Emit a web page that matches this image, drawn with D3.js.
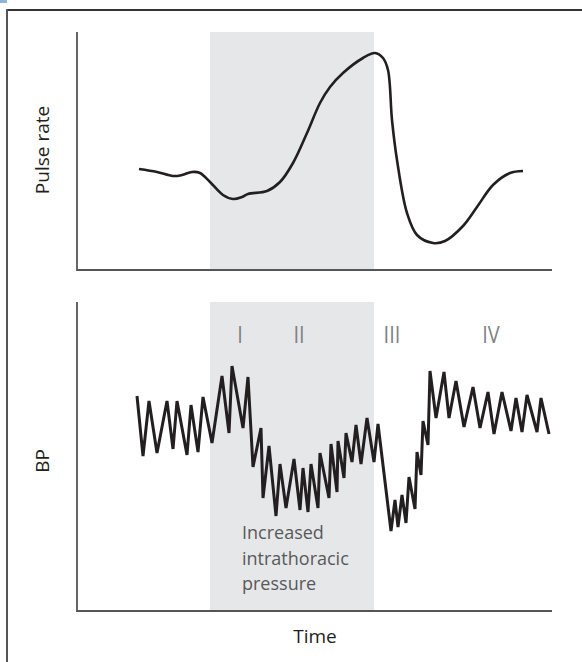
<!DOCTYPE html>
<html>
<head>
<meta charset="utf-8">
<script src="https://cdn.jsdelivr.net/npm/d3@7"></script>
<style>
  body { margin: 0; background: #fff; }
  text { font-family: "Open Sans", "Noto Sans", sans-serif; }
</style>
</head>
<body>
<div id="chart"></div>
<script>
// time axis is arbitrary units, 0..95
var shadeStart = 26.6, shadeEnd = 59.4

// pulse rate trace (arbitrary units)
var pulseT = [12.4, 16, 19.2, 21, 23, 24.6, 26.6, 29.2, 31.2, 33, 34.2, 38, 40.6, 43.2, 46, 48.6, 50.6, 53.2, 57.2, 59.6, 61.2, 62.2, 63, 64, 66, 68, 71.2, 73.6, 77.2, 80, 83.2, 86.6, 89.2]
var pulseV = [50.5, 49, 47, 47.5, 49, 48.5, 44, 37.5, 35.5, 36.5, 38, 39.5, 44, 53.5, 68.5, 83.5, 91.5, 98.5, 106, 108.5, 106, 100, 75, 55, 28.5, 17.5, 13.5, 14.5, 22, 31.5, 42.5, 48.5, 49.5]

// blood pressure trace (systolic/diastolic peaks and troughs)
var bpT = [12, 13.2, 14.4, 16, 18, 19.2, 20, 22, 22.8, 24.2, 25.2, 27, 29, 30.4, 31, 33.2, 34.2, 35.2, 36.8, 37.2, 38.4, 39.8, 40.6, 41.8, 43.4, 44.6, 45.2, 46.2, 46.8, 48.2, 48.6, 50.4, 50.8, 52, 52.2, 53.4, 53.8, 55, 55.8, 56.8, 58, 59.4, 60.2,
  62.8, 63.6, 64.2, 65, 65.8, 66.4, 67.6, 68, 68.8, 69.2, 70.2, 70.6, 71.8, 73.4, 74.4, 75.8, 77.4, 79.2, 80.6, 82.2, 83.4, 85, 86.8, 87.8, 89, 90, 92, 92.8, 94.4]
var bpV = [107.5, 77.5, 105, 79, 105, 81, 105, 78, 103, 79.5, 107, 84, 117.5, 89, 122.5, 91.5, 117, 72, 91.5, 56.5, 82.5, 47.5, 73.5, 51.5, 76, 50.5, 71.5, 49.5, 73.5, 51.5, 79, 56.5, 83.5, 59.5, 85, 66.5, 89, 74.5, 93, 73.5, 96.5, 74.5, 93.5,
  40, 55.5, 42, 58, 44, 67, 51, 79.5, 68, 95, 83, 120, 96.5, 119.5, 96.5, 115, 92, 112, 91.5, 109.5, 88.5, 109.5, 90, 106.5, 89.5, 108, 89.5, 106.5, 88.5]

var phaseLabels = ["I", "II", "III", "IV"]
var phaseT = [32.6, 44.4, 63, 82.8]
var noteLines = ["Increased", "intrathoracic", "pressure"]

var pulse = pulseT.map(function(t, i) { return {t: t, v: pulseV[i]} })
var bp = bpT.map(function(t, i) { return {t: t, v: bpV[i]} })

var width = 582, height = 662
var svg = d3.select("#chart").append("svg").attr("width", width).attr("height", height)

// frame
svg.append("rect").attr("x", 0).attr("y", 0).attr("width", 7).attr("height", 3).attr("fill", "#8db6d6")
svg.append("line").attr("x1", 6).attr("x2", 582).attr("y1", 10).attr("y2", 10).attr("stroke", "#333").attr("stroke-width", 2)
svg.append("line").attr("x1", 7).attr("x2", 7).attr("y1", 9).attr("y2", 662).attr("stroke", "#555").attr("stroke-width", 2)

var x = d3.scaleLinear().domain([0, 95]).range([77, 552])
var yPulse = d3.scaleLinear().domain([0, 119]).range([270, 32])
var yBP = d3.scaleLinear().domain([0, 154.5]).range([611, 302])

function panel(y, data, curve, sw) {
  var top = y.range()[1], bottom = y.range()[0]
  svg.append("rect")
    .attr("x", x(shadeStart)).attr("width", x(shadeEnd) - x(shadeStart))
    .attr("y", top).attr("height", bottom - top)
    .attr("fill", "#e6e7e8")
  svg.append("line").attr("x1", x(0)).attr("x2", x(0)).attr("y1", top).attr("y2", bottom + 1)
    .attr("stroke", "#555").attr("stroke-width", 1.8)
  svg.append("line").attr("x1", x(0)).attr("x2", x(95)).attr("y1", bottom).attr("y2", bottom)
    .attr("stroke", "#555").attr("stroke-width", 1.8)
  var line = d3.line().x(function(d) { return x(d.t) }).y(function(d) { return y(d.v) }).curve(curve)
  svg.append("path").datum(data).attr("d", line)
    .attr("fill", "none").attr("stroke", "#231f20").attr("stroke-width", sw)
    .attr("stroke-linejoin", "miter").attr("stroke-linecap", "butt")
}

panel(yPulse, pulse, d3.curveCatmullRom.alpha(0.5), 2.6)
panel(yBP, bp, d3.curveLinear, 3)

// axis titles
svg.append("text").attr("transform", "translate(49,150) rotate(-90)")
  .attr("text-anchor", "middle").attr("font-size", 19).attr("fill", "#231f20").text("Pulse rate")
svg.append("text").attr("transform", "translate(49,461) rotate(-90)")
  .attr("text-anchor", "middle").attr("font-size", 19).attr("fill", "#231f20").text("BP")
svg.append("text").attr("x", 315).attr("y", 643)
  .attr("text-anchor", "middle").attr("font-size", 19).attr("fill", "#231f20").text("Time")

// phase numerals
svg.selectAll(".phase").data(phaseLabels).enter().append("text")
  .attr("class", "phase")
  .attr("x", function(d, i) { return x(phaseT[i]) })
  .attr("y", 343)
  .attr("text-anchor", "middle")
  .attr("font-size", 20).attr("fill", "#808285")
  .attr("transform", function(d, i) { var cx = x(phaseT[i]); return "translate(" + cx + ",343) scale(1,1.2) translate(" + (-cx) + ",-343)" })
  .text(function(d) { return d })

// note inside the shaded band
svg.selectAll(".note").data(noteLines).enter().append("text")
  .attr("class", "note")
  .attr("x", 242)
  .attr("y", function(d, i) { return 539 + i * 25.5 })
  .attr("font-size", 18).attr("fill", "#58595b")
  .text(function(d) { return d })
</script>
</body>
</html>
